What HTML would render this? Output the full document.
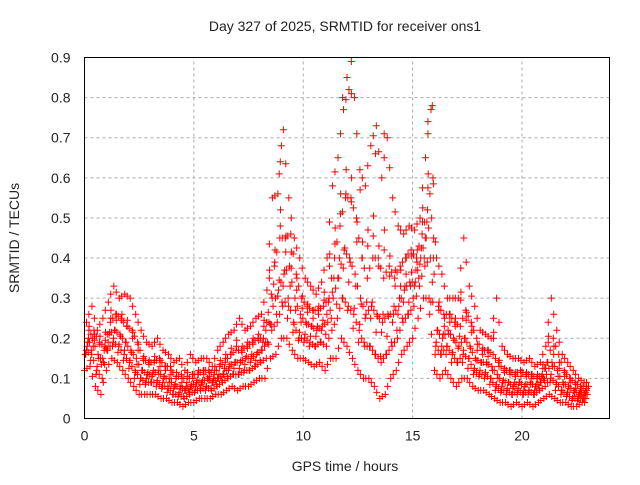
<!DOCTYPE html>
<html><head><meta charset="utf-8"><style>
body{margin:0;background:#fff;}
svg text{font-family:"Liberation Sans",sans-serif;fill:#222;}
</style></head><body>
<svg id="chart" width="640" height="480" viewBox="0 0 640 480" xmlns="http://www.w3.org/2000/svg">
<rect width="640" height="480" fill="#fff"/>
<text x="345" y="31" font-size="14" text-anchor="middle">Day 327 of 2025, SRMTID for receiver ons1</text>
<text x="345" y="471" font-size="14" text-anchor="middle">GPS time / hours</text>
<text transform="translate(19,238) rotate(-90)" font-size="14" text-anchor="middle">SRMTID / TECUs</text>
<g id="grid"></g>
<g id="ticks"></g>
<g id="marks"></g>
<rect x="84.5" y="57.5" width="525" height="361" fill="none" stroke="#000" stroke-width="1"/>
</svg>
<script>
const xTicks=[0,5,10,15,20];
const yTicks=[0,0.1,0.2,0.3,0.4,0.5,0.6,0.7,0.8,0.9];
const tStep=0.25;
const sLo=[.12,.13,.08,.06,.12,.15,.14,.12,.10,.08,.06,.06,.06,.06,.05,.05,.04,.04,.03,.04,.04,.05,.05,.05,.06,.06,.07,.08,.07,.08,.08,.09,.10,.10,.15,.16,.20,.20,.17,.15,.15,.14,.13,.14,.12,.15,.15,.20,.18,.15,.12,.10,.10,.08,.05,.06,.10,.12,.16,.18,.20,.25,.30,.30,.12,.10,.12,.10,.08,.10,.10,.08,.07,.07,.06,.05,.04,.04,.03,.04,.03,.04,.03,.04,.05,.06,.05,.04,.04,.03,.03,.04];
const sM1=[.16,.17,.12,.10,.17,.19,.18,.16,.14,.12,.10,.09,.09,.09,.08,.08,.06,.06,.05,.06,.07,.07,.08,.07,.08,.09,.10,.11,.11,.12,.12,.13,.14,.15,.22,.24,.28,.30,.24,.20,.20,.19,.18,.19,.18,.22,.25,.30,.28,.26,.22,.18,.18,.16,.14,.16,.18,.20,.24,.26,.28,.33,.38,.40,.18,.16,.18,.16,.14,.16,.15,.12,.11,.11,.10,.08,.07,.07,.06,.07,.06,.07,.06,.07,.08,.10,.09,.07,.06,.05,.05,.05];
const sM2=[.18,.20,.16,.14,.21,.22,.21,.19,.17,.15,.12,.11,.11,.12,.10,.10,.08,.08,.07,.08,.09,.09,.10,.09,.10,.11,.13,.14,.14,.15,.15,.16,.17,.19,.28,.32,.36,.38,.30,.26,.24,.23,.22,.23,.24,.30,.35,.42,.40,.36,.30,.26,.28,.26,.24,.26,.26,.28,.32,.34,.34,.40,.45,.50,.22,.20,.22,.20,.18,.20,.18,.15,.14,.14,.13,.11,.09,.09,.08,.09,.08,.09,.08,.09,.11,.14,.12,.09,.08,.07,.06,.06];
const sM3=[.20,.22,.19,.18,.24,.26,.25,.23,.22,.19,.15,.14,.14,.15,.13,.13,.10,.11,.09,.11,.11,.12,.12,.11,.13,.14,.16,.17,.17,.18,.19,.20,.20,.24,.38,.45,.45,.46,.36,.30,.28,.27,.27,.28,.30,.40,.48,.55,.55,.50,.40,.35,.40,.40,.35,.38,.35,.38,.40,.42,.40,.46,.52,.60,.28,.26,.26,.24,.23,.27,.24,.20,.17,.17,.16,.14,.12,.12,.11,.12,.11,.11,.10,.11,.14,.20,.16,.12,.10,.09,.08,.08];
const sHi=[.24,.28,.22,.25,.29,.33,.30,.31,.30,.26,.22,.19,.18,.20,.17,.16,.14,.15,.12,.16,.14,.15,.15,.13,.17,.19,.21,.22,.25,.22,.23,.25,.26,.32,.55,.56,.72,.55,.45,.40,.35,.33,.31,.34,.40,.58,.65,.77,.82,.80,.62,.58,.68,.73,.60,.70,.55,.48,.46,.48,.47,.50,.65,.77,.40,.36,.30,.30,.30,.45,.33,.28,.22,.21,.20,.30,.18,.16,.15,.15,.14,.15,.13,.14,.18,.30,.22,.16,.14,.12,.10,.09];
const spikeT=[9.0,12.2,11.8,12.0,15.7,13.7,15.9,8.9,12.6,13.3];
const spikeV=[.68,.89,.80,.85,.74,.71,.78,.61,.57,.66];
const NS='http://www.w3.org/2000/svg';
const X0=84.5,X1=609.5,Y0=418.5,Y1=57.5;
function xs(t){return X0+t/24*(X1-X0);}
function ys(v){return Y0-v/0.9*(Y0-Y1);}
const grid=document.getElementById('grid'),ticks=document.getElementById('ticks'),marks=document.getElementById('marks');
function mk(tag,attrs,parent){const e=document.createElementNS(NS,tag);for(const k in attrs)e.setAttribute(k,attrs[k]);parent.appendChild(e);return e;}
xTicks.forEach(t=>{
  const x=xs(t);
  if(t>0){const g=mk('line',{x1:x,x2:x,y1:Y0,y2:Y1,stroke:'#aaa','stroke-dasharray':'3,3'},grid);
  
  }
  const tx=mk('text',{x:x,y:Y0+22,'font-size':14,'text-anchor':'middle'},ticks);
  tx.textContent=t;
  
  
});
yTicks.forEach(v=>{
  const y=ys(v);
  if(v>0&&v<0.9){const g=mk('line',{x1:X0,x2:X1,y1:y,y2:y,stroke:'#aaa','stroke-dasharray':'3,3'},grid);
  
  }
  const tx=mk('text',{x:X0-14,y:y+5,'font-size':14,'text-anchor':'end'},ticks);
  tx.textContent=(v===0?'0':v.toFixed(1));
  
  
});
function plus(t,v,color){
  const x=xs(t),y=ys(v);
  const p=mk('path',{d:`M${x-3.5},${y}H${x+3.5}M${x},${y-3.5}V${y+3.5}`,stroke:color,'stroke-width':1,fill:'none'},marks);
  
  
}
const seriesList=[[sLo,0],[sM1,0.06],[sM2,0.12],[sM3,0.18],[sHi,0.09]];
seriesList.forEach(([arr,off])=>{
  arr.forEach((v,i)=>{plus(i*tStep+off,v,'#ff0000');plus(i*tStep+off+0.11,(v+arr[Math.min(i+1,arr.length-1)])/2,'#ff0000');});
});
const pairList=[[sLo,sM2,0.03],[sM1,sM3,0.15],[sM2,sHi,0.21],[sLo,sM3,0.08],[sM1,sHi,0.2]];
pairList.forEach(([a,b,off])=>{
  a.forEach((v,i)=>{const j=Math.min(i+1,b.length-1);plus(i*tStep+off,(v+b[j])/2,'#ff0000');});
});
spikeT.forEach((t,i)=>plus(t,spikeV[i],'#ff0000'));
</script>
</body></html>
